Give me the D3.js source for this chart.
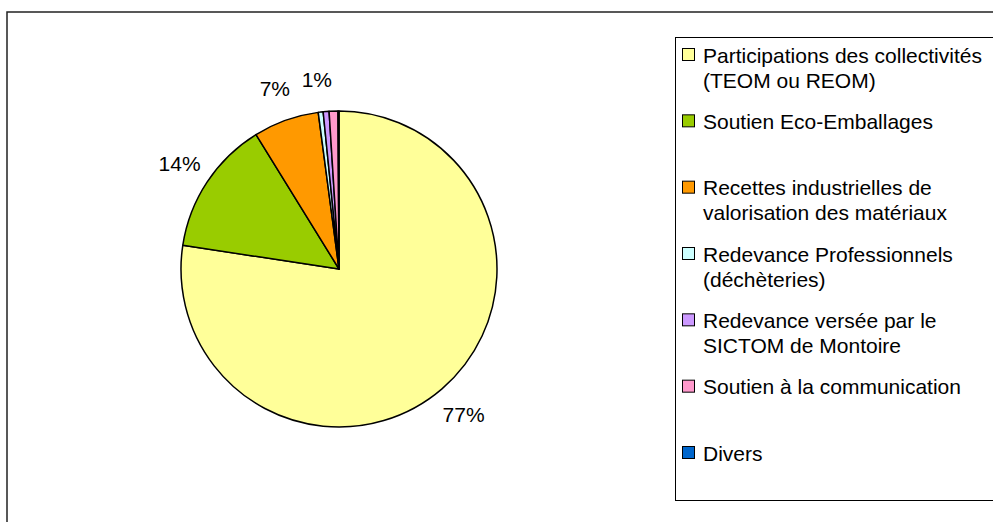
<!DOCTYPE html>
<html>
<head>
<meta charset="utf-8">
<script src="https://cdn.jsdelivr.net/npm/d3@7"></script>
<style>
  body { margin: 0; background: #fff; }
  text { font-family: "Liberation Sans", Arial, sans-serif; fill: #000; }
</style>
</head>
<body>
<div class="pie-chart"></div>
<script>
// slices, clockwise from 12 o'clock
const categories = [
  ["Participations des collectivités", "(TEOM ou REOM)"],
  ["Soutien Eco-Emballages"],
  ["Recettes industrielles de", "valorisation des matériaux"],
  ["Redevance Professionnels", "(déchèteries)"],
  ["Redevance versée par le", "SICTOM de Montoire"],
  ["Soutien à la communication"],
  ["Divers"]
]
const shares = [77.4, 13.8, 6.7, 0.5, 0.6, 0.9, 0.1]
const pctLabels = ["77%", "14%", "7%", "1%", "", "", ""]
const colors = ["#FFFF99", "#99CC00", "#FF9900", "#CCFFFF", "#CC99FF", "#FF99CC", "#0066CC"]

const dims = { width: 993, height: 522, radius: 158 }
const center = { x: 339, y: 269 }

const data = categories.map((c, i) => ({ name: c, value: shares[i], label: pctLabels[i], color: colors[i] }))

const svg = d3.select('.pie-chart')
  .append('svg')
  .attr('width', dims.width)
  .attr('height', dims.height)

// chart area frame (runs off the right and bottom edges)
svg.append('rect')
  .attr('x', 7).attr('y', 12)
  .attr('width', 1000).attr('height', 600)
  .attr('fill', 'none')
  .attr('stroke', '#222')
  .attr('stroke-width', 1.5)

const graph = svg.append('g')
  .attr('transform', `translate(${center.x}, ${center.y})`)

const pie = d3.pie()
  .sort(null)
  .value(d => d.value)

const arcPath = d3.arc()
  .outerRadius(dims.radius)
  .innerRadius(0)

const labelArc = d3.arc()
  .outerRadius(dims.radius * 2.42)
  .innerRadius(0)

const slices = pie(data)

graph.selectAll('path')
  .data(slices)
  .enter()
  .append('path')
  .attr('d', arcPath)
  .attr('fill', d => d.data.color)
  .attr('stroke', '#000')
  .attr('stroke-width', 1.5)
  .attr('stroke-linejoin', 'round')

graph.selectAll('text.pct')
  .data(slices.filter(d => d.data.label))
  .enter()
  .append('text')
  .attr('class', 'pct')
  .attr('transform', d => `translate(${labelArc.centroid(d)})`)
  .attr('text-anchor', 'middle')
  .attr('dy', '0.36em')
  .style('font-size', '21px')
  .text(d => d.data.label)

// legend
const legend = svg.append('g')
legend.append('rect')
  .attr('x', 675.5).attr('y', 37.5)
  .attr('width', 400).attr('height', 463)
  .attr('fill', '#fff')
  .attr('stroke', '#000')
  .attr('stroke-width', 1)

const rowY = d3.scaleLinear().domain([0, 6]).range([55, 453])

const items = legend.selectAll('g.item')
  .data(data)
  .enter()
  .append('g')
  .attr('class', 'item')
  .attr('transform', (d, i) => `translate(0, ${rowY(i)})`)

items.append('rect')
  .attr('x', 682.5).attr('y', -6.5)
  .attr('width', 12).attr('height', 12)
  .attr('fill', d => d.color)
  .attr('stroke', '#000')
  .attr('stroke-width', 1)

items.append('text')
  .attr('x', 703)
  .style('font-size', '21px')
  .selectAll('tspan')
  .data(d => d.name)
  .enter()
  .append('tspan')
  .attr('x', 703)
  .attr('y', (d, i) => i * 25)
  .attr('dy', '0.36em')
  .text(d => d)
</script>
</body>
</html>
